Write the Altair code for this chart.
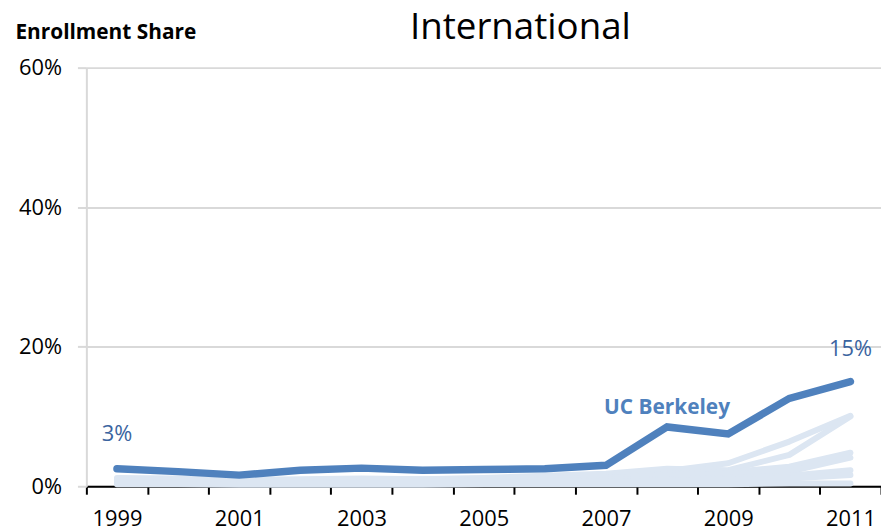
import altair as alt
import pandas as pd

years = [str(y) for y in range(1999, 2012)]

berkeley = [2.5, 2.1, 1.6, 2.3, 2.6, 2.3, 2.4, 2.5, 3.0, 8.5, 7.5, 12.6, 15.0]

others = {
    "UCLA":          [1.2, 1.1, 0.9, 1.0, 1.1, 1.0, 1.1, 1.2, 1.5, 2.2, 3.3, 6.4, 10.1],
    "UC San Diego":  [1.0, 0.9, 0.8, 0.9, 1.0, 1.0, 1.2, 1.5, 1.8, 2.5, 2.3, 4.5, 10.0],
    "UC Davis":      [0.8, 0.7, 0.6, 0.6, 0.7, 0.7, 0.8, 1.0, 1.2, 1.8, 2.0, 2.8, 4.8],
    "UC Irvine":     [0.9, 0.8, 0.7, 0.8, 0.8, 0.8, 0.9, 1.0, 1.2, 1.6, 1.8, 2.1, 4.1],
    "UC Santa Barbara": [0.6, 0.5, 0.5, 0.5, 0.6, 0.6, 0.7, 0.8, 0.9, 1.0, 1.2, 1.5, 2.3],
    "UC Riverside":  [0.5, 0.4, 0.4, 0.4, 0.5, 0.5, 0.5, 0.6, 0.7, 0.8, 1.0, 1.1, 1.6],
    "UC Santa Cruz": [0.3, 0.3, 0.2, 0.2, 0.2, 0.2, 0.3, 0.3, 0.3, 0.3, 0.3, 0.4, 0.4],
}

val_years = ["1999", "2011"]
val_values = [7.5, 19.7]
val_text = ["3%", "15%"]

name_year = ["2008"]
name_value = [11.2]
name_text = ["UC Berkeley"]

rows = []
for name, vals in others.items():
    for y, v in zip(years, vals):
        rows.append({"campus": name, "year": y, "share": v / 100})
df_other = pd.DataFrame(rows)
df_berk = pd.DataFrame({"campus": "UC Berkeley", "year": years, "share": [v / 100 for v in berkeley]})
df_val = pd.DataFrame({"year": val_years, "share": [v / 100 for v in val_values], "label": val_text})
df_name = pd.DataFrame({"year": name_year, "share": [v / 100 for v in name_value], "label": name_text})

FONT = "Open Sans"
x_scale = alt.Scale(type="band", domain=years, paddingInner=0, paddingOuter=0)
y_scale = alt.Scale(domain=[0, 0.6], nice=False)

x_enc = alt.X(
    "year:O",
    scale=x_scale,
    axis=alt.Axis(
        title="International",
        titleX=437,
        titleY=-451,
        titleAlign="center",
        titleAnchor="start",
        titleBaseline="alphabetic",
        titleFont=FONT,
        titleFontSize=37,
        titleFontWeight="normal",
        titleColor="black",
        tickBand="extent",
        labelExpr="(+datum.value) % 2 == 1 ? datum.value : ''",
        labelAngle=0,
        labelFont=FONT,
        labelFontSize=22,
        labelColor="black",
        labelPadding=15,
        domainColor="black",
        domainWidth=2,
        tickColor="black",
        tickWidth=2,
        tickSize=8,
        grid=False,
    ),
)

y_axis = alt.Axis(
    title="Enrollment Share",
    titleAngle=0,
    titleX=-72,
    titleY=-29,
    titleAlign="left",
    titleBaseline="alphabetic",
    titleFont=FONT,
    titleFontSize=21,
    titleFontWeight="bold",
    titleColor="black",
    values=[0, 0.2, 0.4, 0.6],
    format=".0%",
    labelFont=FONT,
    labelFontSize=22,
    labelColor="black",
    labelPadding=16,
    domainColor="#d9d9d9",
    domainWidth=2,
    tickColor="#d9d9d9",
    tickWidth=2,
    tickSize=9,
    gridColor="#d9d9d9",
    gridWidth=2,
)

other_lines = alt.Chart(df_other).mark_line(
    strokeWidth=6, color="#dce6f2", strokeCap="round", strokeJoin="round"
).encode(
    x=x_enc,
    y=alt.Y("share:Q", scale=y_scale, axis=y_axis),
    detail="campus:N",
)

berk_line = alt.Chart(df_berk).mark_line(
    strokeWidth=7.5, color="#4f81bd", strokeCap="round", strokeJoin="miter"
).encode(
    x=alt.X("year:O", scale=x_scale),
    y=alt.Y("share:Q", scale=y_scale),
)

val_text_layer = alt.Chart(df_val).mark_text(
    font=FONT, fontSize=22, baseline="middle", align="center", color="#3a64a0"
).encode(
    x=alt.X("year:O", scale=x_scale),
    y=alt.Y("share:Q", scale=y_scale),
    text="label:N",
)

name_text_layer = alt.Chart(df_name).mark_text(
    font=FONT, fontSize=21, fontWeight="bold", baseline="middle", align="center", color="#4f81bd"
).encode(
    x=alt.X("year:O", scale=x_scale),
    y=alt.Y("share:Q", scale=y_scale),
    text="label:N",
)

chart = alt.layer(other_lines, berk_line, val_text_layer, name_text_layer).properties(
    width=801,
    height=422,
    autosize=alt.AutoSizeParams(type="none"),
    padding={"left": 79, "top": 58, "right": 0, "bottom": 44},
).configure_view(stroke=None)

chart.save("out.html", embed_options={"renderer": "svg", "actions": False})
